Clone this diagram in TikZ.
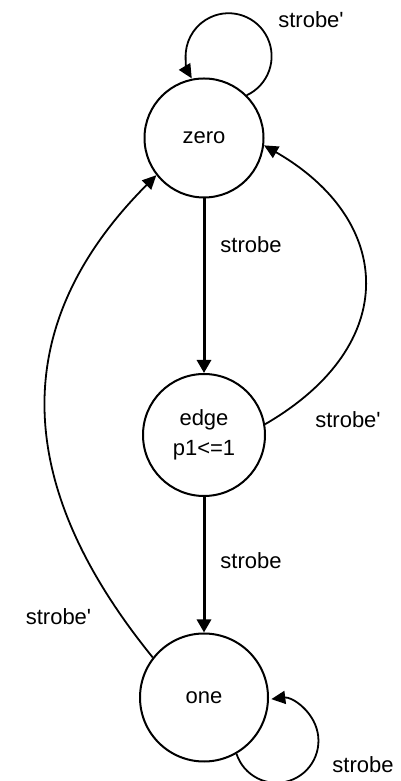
\documentclass[tikz,border=0pt]{standalone}
\usepackage{fontspec}
\setmainfont{Liberation Sans}[Ligatures=TeXOff]
\usetikzlibrary{arrows.meta}
\begin{document}
\begin{tikzpicture}[x=1pt,y=1pt,
  state/.style={draw, circle, line width=2pt, inner sep=0pt, align=center,
    font=\fontsize{22}{30}\selectfont},
  lbl/.style={font=\fontsize{22}{26}\selectfont, inner sep=0pt},
  trans/.style={line width=1.8pt, -{Triangle[length=14pt,width=13pt]}},
  mainarrow/.style={line width=3pt, -{Triangle[length=13pt,width=14pt]}}]
\useasboundingbox (0,0) rectangle (400,781);
\fill[white] (0,0) rectangle (400,781);
\node[state, minimum size=119pt] (zero) at (204,643) {zero};
\node[state, minimum size=122pt] (edge) at (204,346) {edge\\p1<=1};
\node[state, minimum size=128pt] (one) at (204,83.5) {one};
% straight transitions
\draw[mainarrow] (zero.south) -- (edge.north);
\draw[mainarrow] (edge.south) -- (one.north);
% curved transitions
\draw[trans] (one.142) .. controls (15,293) and (4,453) .. (zero.218);
\draw[trans] (edge.10) .. controls (402,436) and (394,561) .. (zero.353);
% self loops
\draw[trans] (zero.45) arc[start angle=-65, end angle=211, radius=43];
\draw[trans] (one.300) arc[start angle=198, end angle=457, radius=42];
% labels
\node[lbl] (l1) at (311,761) {strobe'};
\node[lbl] (l2) at (251,536) {strobe};
\node[lbl] (l3) at (348,361) {strobe'};
\node[lbl] (l4) at (251,220) {strobe};
\node[lbl] (l5) at (58.5,164) {strobe'};
\node[lbl] (l6) at (363,16) {strobe};
\end{tikzpicture}
\end{document}
